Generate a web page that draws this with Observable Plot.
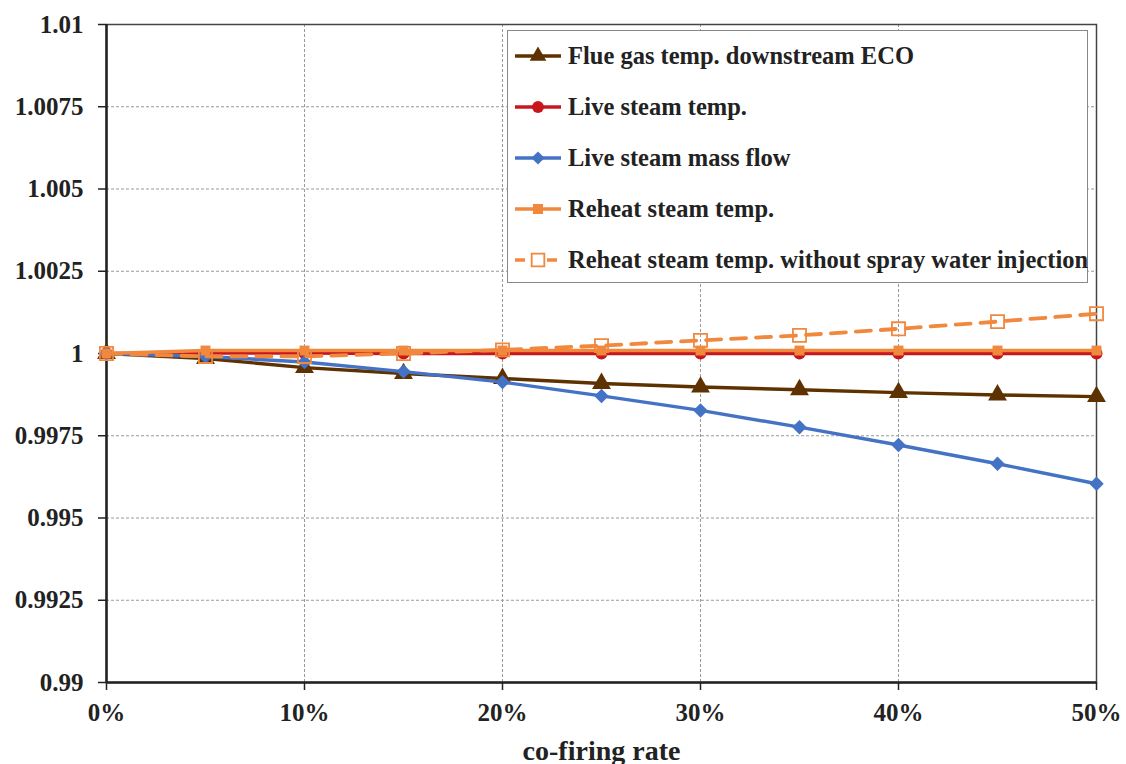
<!DOCTYPE html>
<html>
<head>
<meta charset="utf-8">
<script src="https://cdn.jsdelivr.net/npm/d3@7"></script>
<script src="https://cdn.jsdelivr.net/npm/@observablehq/plot@0.6"></script>
<style>
  html, body { margin: 0; padding: 0; background: #fff; }
  #wrap { position: relative; width: 1126px; height: 764px; }
  #legend {
    position: absolute; left: 507px; top: 30px; width: 581px; height: 253px;
    border: 1.5px solid #888; background: #fff; box-sizing: border-box;
    font-family: "Liberation Serif", serif; font-weight: bold;
    font-size: 24.5px; color: #222;
  }
  .row { position: absolute; left: 5px; height: 30px; display: flex; align-items: center; white-space: nowrap; }
  .row svg { margin-right: 5px; }
</style>
</head>
<body>
<div id="wrap"><div id="legend"></div></div>
<script>
const rate = [0, 5, 10, 15, 20, 25, 30, 35, 40, 45, 50];
const flueGas = [1, 0.99985, 0.99957, 0.99939, 0.99924, 0.99909, 0.99898, 0.9989, 0.99881, 0.99874, 0.99869];
const liveTemp = [1, 1.00001, 1.00001, 1.0, 1.0, 1.0, 1.0, 1.0, 1.0, 1.0, 1.0];
const liveFlow = [1, 0.99991, 0.99974, 0.99945, 0.99913, 0.99871, 0.99827, 0.99776, 0.99722, 0.99665, 0.99604];
const reheat = [1, 1.00009, 1.00009, 1.00009, 1.00009, 1.00009, 1.00009, 1.00009, 1.00009, 1.00009, 1.00009];
const reheatNoSpray = [1, 0.99991, 0.99991, 1.0, 1.00011, 1.00024, 1.0004, 1.00055, 1.00075, 1.00097, 1.00121];

const xTicks = [0, 10, 20, 30, 40, 50];
const yTicks = [0.99, 0.9925, 0.995, 0.9975, 1, 1.0025, 1.005, 1.0075, 1.01];
const yTickLabels = ["0.99", "0.9925", "0.995", "0.9975", "1", "1.0025", "1.005", "1.0075", "1.01"];

const seriesNames = [
  "Flue gas temp. downstream ECO",
  "Live steam temp.",
  "Live steam mass flow",
  "Reheat steam temp.",
  "Reheat steam temp. without spray water injection"
];
const seriesValues = [flueGas, liveTemp, liveFlow, reheat, reheatNoSpray];
const seriesColors = ["#5E3100", "#C8161D", "#4472C4", "#F0883E", "#F0883E"];
const seriesSymbols = ["triangle", "circle", "diamond2", "square", "square"];
const seriesR = [7, 6, 6.5, 5.6, 7.4];
const seriesOpen = [false, false, false, false, true];
const seriesDash = [null, null, null, null, "15,10"];

const FONT = '"Liberation Serif", serif';

const marks = [
  Plot.gridX(xTicks, {stroke: "#999", strokeOpacity: 1, strokeDasharray: "3,2"}),
  Plot.gridY(yTicks, {stroke: "#999", strokeOpacity: 1, strokeDasharray: "3,2"}),
  Plot.frame({stroke: "#444", strokeWidth: 1.5}),
  Plot.axisY({ticks: yTicks, tickSize: 8, tickPadding: 15, tickFormat: (d) => yTickLabels[yTicks.indexOf(d)], label: null, stroke: "#222", strokeWidth: 1.5}),
  Plot.axisX({ticks: xTicks, tickSize: 8, tickPadding: 13, tickFormat: (d) => d + "%", stroke: "#222", strokeWidth: 1.5, label: null}),
  Plot.axisX({ticks: [], tickSize: 0, label: "co-firing rate", labelAnchor: "center", labelArrow: "none", labelOffset: 77, fontSize: 28}),
  Plot.ruleX([0], {stroke: "#222", strokeWidth: 2.5}),
  Plot.ruleY([0.99], {stroke: "#222", strokeWidth: 2.5})
];

seriesValues.forEach((vals, i) => {
  const data = rate.map((r, j) => ({rate: r, value: vals[j]}));
  marks.push(Plot.line(data, {x: "rate", y: "value", stroke: seriesColors[i], strokeWidth: seriesDash[i] ? 3.8 : 3.4, strokeDasharray: seriesDash[i], strokeLinecap: "round"}));
  marks.push(Plot.dot(data, {
    x: "rate", y: "value", symbol: seriesSymbols[i], r: seriesR[i],
    fill: seriesOpen[i] ? "white" : seriesColors[i],
    fillOpacity: seriesOpen[i] ? 0 : 1,
    stroke: seriesOpen[i] ? seriesColors[i] : "none",
    strokeWidth: 1.8
  }));
});

const chart = Plot.plot({
  width: 1126,
  height: 764,
  marginLeft: 106,
  marginRight: 30,
  marginTop: 24,
  marginBottom: 82,
  x: {domain: [0, 50]},
  y: {domain: [0.99, 1.01]},
  style: {fontFamily: FONT, fontSize: "25px", fontWeight: "bold", color: "#222", background: "white", overflow: "visible"},
  marks
});
document.getElementById("wrap").prepend(chart);

// Legend
const legend = document.getElementById("legend");
const rowCenters = [25, 76, 127, 178, 229];
const symbolPath = {
  triangle: d3.symbol(d3.symbolTriangle, 120)(),
  circle: d3.symbol(d3.symbolCircle, 110)(),
  diamond2: d3.symbol(d3.symbolDiamond2, 110)(),
  square: d3.symbol(d3.symbolSquare, 100)()
};
seriesNames.forEach((name, i) => {
  const row = document.createElement("div");
  row.className = "row";
  row.style.top = (rowCenters[i] - 15) + "px";
  const open = seriesOpen[i];
  const p = open ? d3.symbol(d3.symbolSquare, 160)() : symbolPath[seriesSymbols[i]];
  row.innerHTML =
    `<svg width="50" height="30" viewBox="0 0 50 30">` +
    `<line x1="2" x2="48" y1="15" y2="15" stroke="${seriesColors[i]}" stroke-width="3.4" ${seriesDash[i] ? 'stroke-dasharray="10,6"' : ""}/>` +
    `<path transform="translate(25,15)" d="${p}" fill="${open ? "white" : seriesColors[i]}" stroke="${open ? seriesColors[i] : "none"}" stroke-width="1.8"/>` +
    `</svg><span>${name}</span>`;
  legend.appendChild(row);
});
</script>
</body>
</html>
